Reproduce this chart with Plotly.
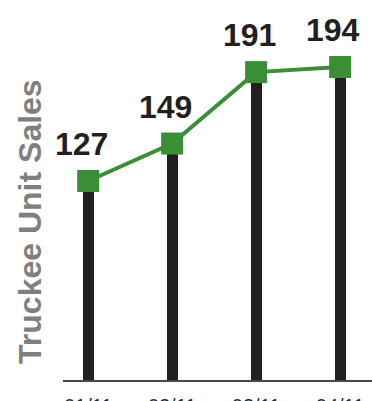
import plotly.graph_objects as go

months = ["01/11", "02/11", "03/11", "04/11"]
sales = [127, 149, 191, 194]
y_title = "Truckee Unit Sales"

xs = list(range(len(months)))
dark = "#231f20"
green = "#3a8f36"

fig = go.Figure()
fig.add_trace(go.Bar(x=xs, y=sales, width=0.13, marker=dict(color=dark, line=dict(width=0)),
                     hoverinfo="skip"))
fig.add_trace(go.Scatter(x=xs, y=sales, mode="lines+markers",
                         line=dict(color=green, width=4),
                         marker=dict(symbol="square", size=22, color=green)))
for x, v in zip(xs, sales):
    fig.add_annotation(x=x, y=v, text=str(v), showarrow=False, xshift=-7, yshift=37,
                       font=dict(family="Liberation Sans", size=32, color=dark, weight="bold"))
fig.add_annotation(xref="paper", yref="paper", x=0, y=0.416, xshift=-33, text=y_title,
                   textangle=-90, showarrow=False, xanchor="center", yanchor="middle",
                   font=dict(family="Liberation Sans", size=32, color="#7f7f7f", weight="bold"))

fig.update_layout(
    width=372, height=401, margin=dict(l=63, r=0, t=0, b=21, autoexpand=False),
    paper_bgcolor="white", plot_bgcolor="white", showlegend=False, bargap=0,
    xaxis=dict(tickmode="array", tickvals=xs, ticktext=months, range=[-0.3, 3.38],
               automargin=False,
               showline=True, linecolor="#4a4a4a", linewidth=2, showgrid=False, zeroline=False,
               ticks="outside", ticklen=7, tickcolor="rgba(0,0,0,0)",
               tickfont=dict(family="Liberation Sans", size=20, color="#1f2a44")),
    yaxis=dict(range=[10, 233.4], visible=False, showgrid=False, zeroline=False, automargin=False),
)
fig.write_html("out.html")
